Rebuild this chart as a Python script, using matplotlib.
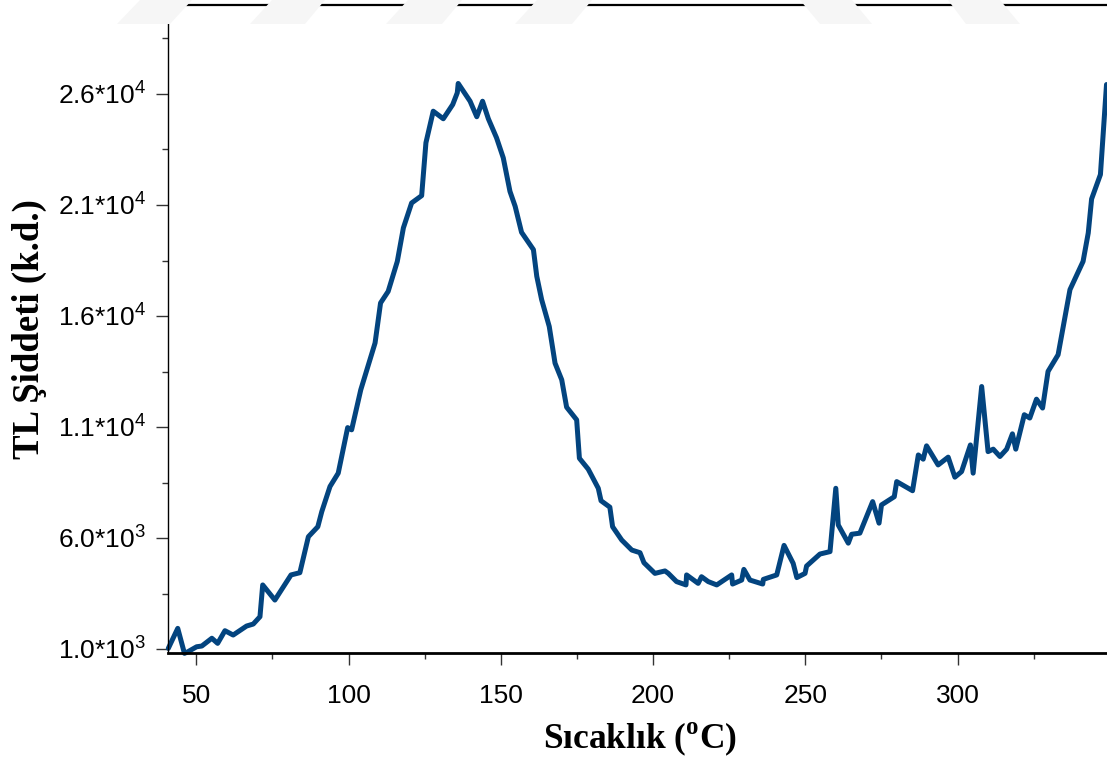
import matplotlib
matplotlib.use("Agg")
import matplotlib.pyplot as plt
from matplotlib.patches import Polygon
from matplotlib.ticker import FixedLocator

plt.rcParams['mathtext.fontset'] = 'custom'
plt.rcParams['mathtext.sf'] = 'Liberation Sans'
plt.rcParams['mathtext.rm'] = 'Liberation Serif'
plt.rcParams['mathtext.bf'] = 'Liberation Serif:bold'

# TL glow curve: temperature (C) vs intensity (a.u.)
temp = [40.8, 43.9, 46.1, 47.2, 50.1, 51.8, 55.1, 57.0, 59.4, 62.1, 66.5, 68.7,
        70.9, 71.8, 75.8, 81.1, 84.0, 86.8, 89.9, 91.2, 93.9, 96.6, 99.7, 101.0,
        104.0, 108.7, 110.5, 113.0, 116.0, 118.0, 120.7, 124.0, 125.4, 127.8,
        131.1, 134.2, 135.7, 136.0, 139.9, 142.1, 144.0, 145.9, 148.6, 150.8,
        153.0, 154.7, 156.8, 160.7, 161.8, 163.4, 165.9, 167.8, 170.0, 171.6,
        174.9, 175.8, 178.7, 182.0, 182.9, 185.8, 186.7, 189.7, 193.0, 195.7,
        197.0, 200.6, 203.9, 205.0, 207.7, 210.8, 211.0, 214.8, 215.9, 218.1,
        220.9, 225.8, 226.1, 229.1, 229.8, 231.8, 236.0, 236.2, 240.6, 243.0,
        246.0, 247.2, 249.9, 250.4, 254.8, 258.1, 260.0, 260.8, 264.1, 265.2,
        267.9, 272.1, 274.2, 275.0, 279.2, 280.0, 285.2, 287.1, 288.7, 289.8,
        293.6, 296.9, 299.1, 301.3, 304.2, 305.1, 307.9, 310.0, 311.7, 313.9,
        316.1, 318.0, 319.1, 321.9, 323.7, 325.9, 327.9, 329.7, 333.0, 336.9,
        341.2, 342.9, 344.0, 346.9, 348.9]
intensity = [1045, 1946, 820, 890, 1117, 1150, 1500, 1270, 1840, 1645, 2050, 2140,
             2470, 3900, 3220, 4350, 4450, 6070, 6520, 7200, 8330, 8930, 10980, 10880,
             12680, 14790, 16590, 17110, 18460, 19970, 21090, 21420, 23800, 25220,
             24880, 25520, 26050, 26470, 25670, 24970, 25670, 24880, 24020, 23120,
             21610, 20940, 19770, 18990, 17790, 16740, 15530, 13880, 13130, 11900,
             11330, 9600, 9110, 8250, 7690, 7400, 6520, 5920, 5470, 5350,
             4900, 4420, 4530, 4420, 4050, 3900, 4350, 3970, 4270, 4050,
             3900, 4350, 3940, 4120, 4600, 4120, 3940, 4150, 4350, 5680,
             4870, 4230, 4420, 4750, 5290, 5400, 8250, 6600, 5780, 6180,
             6230, 7650, 6680, 7500, 7870, 8550, 8140, 9750, 9560, 10160,
             9300, 9650, 8750, 9000, 10200, 8930, 12830, 9900, 10010, 9680,
             10010, 10700, 10010, 11560, 11410, 12260, 11860, 13510, 14260, 17190,
             18460, 19740, 21270, 22370, 26420]

y_major = [1000, 6000, 11000, 16000, 21000, 26000]
y_labels = [r'$\mathsf{1.0{*}10^{3}}$', r'$\mathsf{6.0{*}10^{3}}$',
            r'$\mathsf{1.1{*}10^{4}}$', r'$\mathsf{1.6{*}10^{4}}$',
            r'$\mathsf{2.1{*}10^{4}}$', r'$\mathsf{2.6{*}10^{4}}$']

fig = plt.figure(figsize=(11.07, 7.65), dpi=100)

# faint watermark stripes along the top edge
H = 765.0
W = 1107.0
stripes = [
    [(117, 24), (170, 24), (192, 0), (140, 0)],
    [(250, 24), (305, 24), (325, 0), (272, 0)],
    [(386, 24), (442, 24), (462, 0), (408, 0)],
    [(515, 24), (572, 24), (592, 0), (537, 0)],
    [(800, 0), (852, 0), (872, 24), (820, 24)],
    [(948, 0), (1000, 0), (1020, 24), (966, 24)],
]
for s in stripes:
    pts = [(px / W, 1 - py / H) for px, py in s]
    fig.patches.append(Polygon(pts, closed=True, transform=fig.transFigure,
                               facecolor='#f6f6f6', edgecolor='none', zorder=0))

ax = fig.add_axes([168 / W, (H - 652.7) / H, (1112 - 168) / W, (652.7 - 5) / H])
ax.set_facecolor('none')

ax.plot(temp, intensity, color='#03447f', lw=3.6, solid_joinstyle='round',
        solid_capstyle='round', clip_on=False)

ax.set_xlim(40.7, 350.7)
ax.set_ylim(850, 30000)

ax.xaxis.set_major_locator(FixedLocator([50, 100, 150, 200, 250, 300]))
ax.xaxis.set_minor_locator(FixedLocator([75, 125, 175, 225, 275, 325]))
ax.yaxis.set_major_locator(FixedLocator(y_major))
ax.yaxis.set_minor_locator(FixedLocator([3500, 8500, 13500, 18500, 23500, 28500]))
ax.set_yticklabels(y_labels)

ax.tick_params(which='major', length=8.5, width=1.0, color='#333333',
               labelsize=19)
ax.tick_params(axis='x', which='major', pad=14)
ax.tick_params(axis='y', which='major', pad=7)
ax.tick_params(which='minor', length=4, width=1.0, color='#333333')
for lab in ax.get_xticklabels():
    lab.set_fontfamily('Liberation Sans')

ax.spines['right'].set_visible(False)
ax.spines['left'].set_linewidth(1.0)
ax.spines['top'].set_linewidth(1.6)
ax.spines['bottom'].set_linewidth(2.0)

ax.set_xlabel(r'Sıcaklık ($^{\mathbf{o}}$C)', fontfamily='Liberation Serif',
              fontweight='bold', fontsize=25.5, labelpad=9)
ax.set_ylabel('TL Şiddeti (k.d.)', fontfamily='Liberation Serif',
              fontweight='bold', fontsize=26.5, labelpad=8)

fig.savefig('out.png', dpi=100)
